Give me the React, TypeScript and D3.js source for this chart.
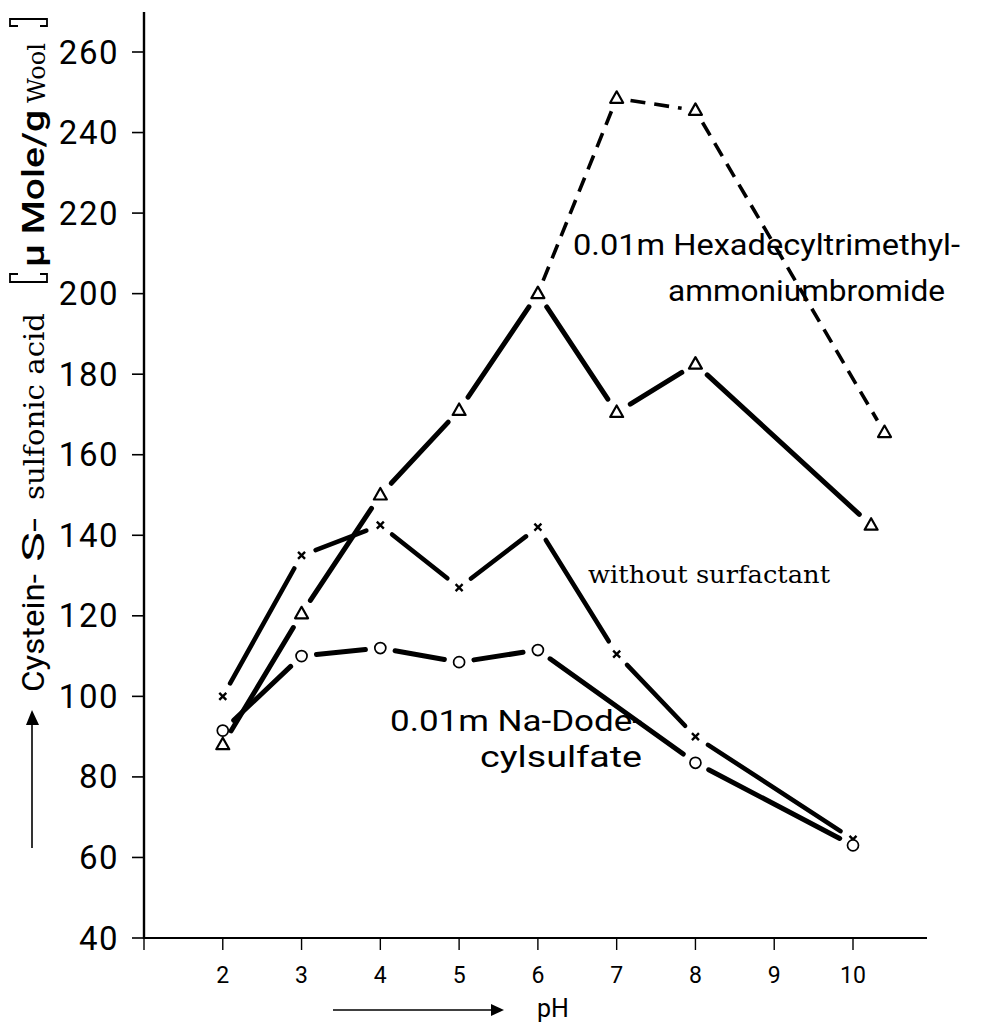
import React from "react";
import * as d3 from "d3";

// Axis ticks
const pHTicks = [1, 2, 3, 4, 5, 6, 7, 8, 9, 10];
const pHTickLabels = ["", "2", "3", "4", "5", "6", "7", "8", "9", "10"];
const yTicks = [40, 60, 80, 100, 120, 140, 160, 180, 200, 220, 240, 260];

// Cystein-S-sulfonic acid (µMole/g wool) versus pH
const plainPH = [2, 3, 4, 5, 6, 7, 8, 10];
const plainValues = [100, 135, 142.5, 127, 142, 110.5, 90, 64.5];

const sdsPH = [2, 3, 4, 5, 6, 8, 10];
const sdsValues = [91.5, 110, 112, 108.5, 111.5, 83.5, 63];

const ctabPH = [2, 3, 4, 5, 6, 7, 8, 10.23];
const ctabValues = [88, 120.5, 150, 171, 200, 170.5, 182.5, 142.5];

const ctabHighPH = [6, 7, 8, 10.4];
const ctabHighValues = [200, 248.5, 245.5, 165.5];

const W = 995;
const H = 1024;
const X0 = 144;
const Y0 = 938;

const x = d3.scaleLinear().domain([1, 10]).range([X0, 853]);
const y = d3.scaleLinear().domain([40, 260]).range([Y0, 52]);

const sans = "Roboto, 'Open Sans', sans-serif";
const serif = "'DejaVu Serif', 'Liberation Serif', serif";

type Pt = [number, number];

function toPoints(xs: number[], vs: number[]): Pt[] {
  return xs.map((p, i) => [x(p), y(vs[i])] as Pt);
}

// Line pieces between markers, pulled back from each marker by `gap`
function gapped(points: Pt[], gap: number) {
  const segs: { x1: number; y1: number; x2: number; y2: number }[] = [];
  for (let i = 0; i < points.length - 1; i++) {
    const [ax, ay] = points[i];
    const [bx, by] = points[i + 1];
    const len = Math.hypot(bx - ax, by - ay);
    const ux = (bx - ax) / len;
    const uy = (by - ay) / len;
    segs.push({
      x1: ax + ux * gap,
      y1: ay + uy * gap,
      x2: bx - ux * gap,
      y2: by - uy * gap,
    });
  }
  return segs;
}

const triPath = "M0,-7L6.5,4.5L-6.5,4.5Z";

function Series({
  points,
  marker,
  width,
  dash,
  gap,
  skipFirst,
}: {
  points: Pt[];
  marker: "tri" | "circle" | "cross";
  width: number;
  dash?: string;
  gap: number;
  skipFirst?: boolean;
}) {
  return (
    <g>
      {gapped(points, gap).map((s, i) => (
        <line
          key={i}
          {...s}
          stroke="#000"
          strokeWidth={width}
          strokeLinecap={dash ? "butt" : "round"}
          strokeDasharray={dash}
        />
      ))}
      {points.map(([px, py], i) => {
        if (skipFirst && i === 0) return null;
        if (marker === "tri")
          return (
            <path
              key={i}
              d={triPath}
              transform={`translate(${px},${py})`}
              fill="#fff"
              stroke="#000"
              strokeWidth={2.2}
              strokeLinejoin="round"
            />
          );
        if (marker === "circle")
          return (
            <circle key={i} cx={px} cy={py} r={5.5} fill="#fff" stroke="#000" strokeWidth={1.7} />
          );
        return (
          <path
            key={i}
            d="M-3.5,-3.5L3.5,3.5M3.5,-3.5L-3.5,3.5"
            transform={`translate(${px},${py})`}
            stroke="#000"
            strokeWidth={2.4}
          />
        );
      })}
    </g>
  );
}

function RotText({
  yStart,
  len,
  children,
  family,
  size,
  weight,
  bx = 44,
}: {
  yStart: number;
  len: number;
  children: React.ReactNode;
  family: string;
  size: number;
  weight?: number;
  bx?: number;
}) {
  return (
    <text
      transform={`translate(${bx},${yStart}) rotate(-90)`}
      fontFamily={family}
      fontSize={size}
      fontWeight={weight ?? 400}
      textLength={len}
      lengthAdjust="spacingAndGlyphs"
      fill="#000"
    >
      {children}
    </text>
  );
}

export default function App() {
  const plain = toPoints(plainPH, plainValues);
  const sds = toPoints(sdsPH, sdsValues);
  const ctab = toPoints(ctabPH, ctabValues);
  const ctabHigh = toPoints(ctabHighPH, ctabHighValues);

  return (
    <svg
      width={W}
      height={H}
      viewBox={`0 0 ${W} ${H}`}
      style={{ position: "absolute", left: 0, top: 0, background: "#fff" }}
    >
      <rect width={W} height={H} fill="#fff" />

      {/* axes */}
      <line x1={X0} y1={12} x2={X0} y2={Y0 + 1} stroke="#000" strokeWidth={2.4} />
      <line x1={X0} y1={Y0} x2={927} y2={Y0} stroke="#000" strokeWidth={2.2} />

      {yTicks.map((t) => (
        <g key={t} transform={`translate(0,${y(t)})`}>
          <line x1={X0 - 12} x2={X0} stroke="#000" strokeWidth={1.6} />
          <text
            x={119}
            dy="0.35em"
            textAnchor="end"
            fontFamily={sans}
            fontSize={33}
            letterSpacing={1.5}
            fill="#000"
          >
            {t}
          </text>
        </g>
      ))}

      {pHTicks.map((t, i) => (
        <g key={t} transform={`translate(${x(t)},0)`}>
          <line y1={Y0} y2={Y0 + 12} stroke="#000" strokeWidth={1.4} />
          <text
            y={983}
            textAnchor="middle"
            fontFamily={sans}
            fontSize={23}
            fill="#000"
          >
            {pHTickLabels[i]}
          </text>
        </g>
      ))}

      {/* x axis caption with arrow */}
      <line x1={333} y1={1010} x2={494} y2={1010} stroke="#000" strokeWidth={1.6} />
      <path d="M504,1010L491,1004L491,1016Z" fill="#000" />
      <text x={537} y={1017} fontFamily={sans} fontSize={25} fill="#000">
        pH
      </text>

      {/* y axis caption with arrow */}
      <line x1={32} y1={848} x2={32} y2={722} stroke="#000" strokeWidth={1.6} />
      <path d="M32,710L26,725L39,725Z" fill="#000" />
      <RotText yStart={692} len={118} family={sans} size={31}>
        Cystein-
      </RotText>
      <RotText yStart={562} len={44} family={sans} size={31}>
        S-
      </RotText>
      <RotText yStart={500} len={187} family={serif} size={28}>
        sulfonic acid
      </RotText>
      <path d="M18,274L10,274L10,282L47,282L47,274L40,274" fill="none" stroke="#000" strokeWidth={1.8} />
      <RotText yStart={267} len={157} family={sans} size={32} weight={500}>
        μ Mole/g
      </RotText>
      <RotText yStart={103} len={60} family={serif} size={24} bx={45}>
        Wool
      </RotText>
      <path d="M18,26L10,26L10,19L47,19L47,26L40,26" fill="none" stroke="#000" strokeWidth={1.8} />

      {/* data */}
      <Series points={ctabHigh} marker="tri" width={3.6} dash="15 9" gap={14} skipFirst />
      <Series points={ctab} marker="tri" width={5} gap={16} />
      <Series points={plain} marker="cross" width={4.6} gap={15} />
      <Series points={sds} marker="circle" width={5} gap={15} />

      {/* series labels */}
      <text x={573} y={255} fontFamily={sans} fontSize={29} textLength={387} lengthAdjust="spacingAndGlyphs">
        0.01m Hexadecyltrimethyl-
      </text>
      <text x={668} y={301} fontFamily={sans} fontSize={29} textLength={277} lengthAdjust="spacingAndGlyphs">
        ammoniumbromide
      </text>
      <text x={588} y={583} fontFamily={serif} fontSize={25} textLength={242} lengthAdjust="spacingAndGlyphs">
        without surfactant
      </text>
      <text x={390} y={731} fontFamily={sans} fontSize={29} textLength={252} lengthAdjust="spacingAndGlyphs">
        0.01m Na-Dode-
      </text>
      <text x={480} y={767} fontFamily={sans} fontSize={29} textLength={162} lengthAdjust="spacingAndGlyphs">
        cylsulfate
      </text>
    </svg>
  );
}
